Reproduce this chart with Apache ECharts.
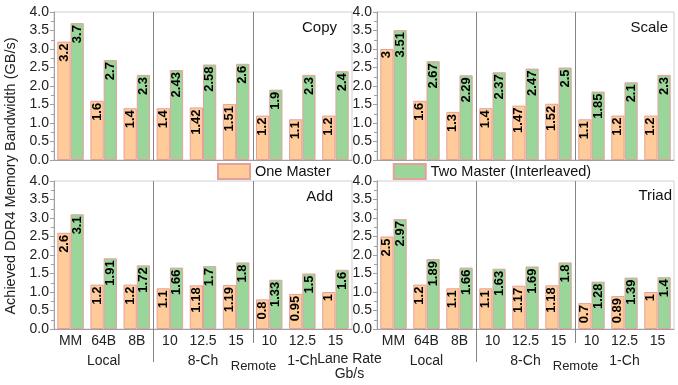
<!DOCTYPE html>
<html>
<head>
<meta charset="utf-8">
<script src="https://cdn.jsdelivr.net/npm/echarts@6/dist/echarts.min.js"></script>
<style>
  html, body { margin: 0; padding: 0; background: #fff; }
  #chart { width: 678px; height: 385px; }
</style>
</head>
<body>
<div id="chart"></div>
<script>
// Categories: local access modes, then remote lane rates (Gb/s) for 8-channel and 1-channel links
const categories = ['MM', '64B', '8B', '10', '12.5', '15', '10', '12.5', '15'];
const groups = ['Local', '8-Ch', '1-Ch'];
const seriesNames = ['One Master', 'Two Master (Interleaved)'];
const panelTitles = ['Copy', 'Scale', 'Add', 'Triad'];

// Achieved bandwidth (GB/s) per STREAM kernel
const copyOne   = [3.2, 1.6, 1.4, 1.4, 1.42, 1.51, 1.2, 1.1, 1.2];
const copyTwo   = [3.7, 2.7, 2.3, 2.43, 2.58, 2.6, 1.9, 2.3, 2.4];
const scaleOne  = [3, 1.6, 1.3, 1.4, 1.47, 1.52, 1.1, 1.2, 1.2];
const scaleTwo  = [3.51, 2.67, 2.29, 2.37, 2.47, 2.5, 1.85, 2.1, 2.3];
const addOne    = [2.6, 1.2, 1.2, 1.1, 1.18, 1.19, 0.8, 0.95, 1];
const addTwo    = [3.1, 1.91, 1.72, 1.66, 1.7, 1.8, 1.33, 1.5, 1.6];
const triadOne  = [2.5, 1.2, 1.1, 1.1, 1.17, 1.18, 0.7, 0.89, 1];
const triadTwo  = [2.97, 1.89, 1.66, 1.63, 1.69, 1.8, 1.28, 1.39, 1.4];

const yMin = 0, yMax = 4, yStep = 0.5;
const yTitle = 'Achieved DDR4 Memory Bandwidth (GB/s)';
const remoteLabel = 'Remote';
const laneRateLabel = 'Lane Rate\nGb/s';

const panelData = [[copyOne, copyTwo], [scaleOne, scaleTwo], [addOne, addTwo], [triadOne, triadTwo]];

const FONT = '"Liberation Sans", Arial, sans-serif';
const colors = ['#FFCC99', '#9AD69A'];
const edge = '#E6A09C';

const grids = [
  { left: 54,  top: 12,  width: 298, height: 148 },
  { left: 377, top: 12,  width: 297, height: 148 },
  { left: 54,  top: 181, width: 298, height: 148 },
  { left: 377, top: 181, width: 297, height: 148 }
].map(g => Object.assign({ show: true, borderColor: '#cfcfcf', borderWidth: 1, backgroundColor: 'transparent' }, g));

// Title placement per panel (right offset, top offset)
const titlePlace = [[336, 15], [5, 15], [340, 184], [1, 183]];

const xAxes = [];
const yAxes = [];
const series = [];
const titles = [];

for (let i = 0; i < 4; i++) {
  const bottomRow = i >= 2;
  xAxes.push({
    type: 'category', gridIndex: i, data: categories,
    axisLine: { lineStyle: { color: '#a0a0a0' } },
    axisTick: { alignWithLabel: true, length: 4, lineStyle: { color: '#a0a0a0' } },
    axisLabel: { show: bottomRow, interval: 0, margin: 5, fontSize: 14, color: '#222', fontFamily: FONT },
    splitLine: { show: false }
  });
  yAxes.push({
    type: 'value', gridIndex: i, min: yMin, max: yMax, interval: yStep,
    axisLine: { show: true, lineStyle: { color: '#a0a0a0' } },
    axisTick: { show: true, length: 4, lineStyle: { color: '#a0a0a0' } },
    minorTick: { show: true, splitNumber: 2, length: 3, lineStyle: { color: '#a0a0a0' } },
    splitLine: { show: false },
    axisLabel: { margin: 5, fontSize: 14, color: '#222', fontFamily: FONT, formatter: v => v.toFixed(1) }
  });
  for (let s = 0; s < 2; s++) {
    series.push({
      type: 'bar', name: seriesNames[s], xAxisIndex: i, yAxisIndex: i,
      data: panelData[i][s],
      barGap: '0%', barCategoryGap: '20%',
      itemStyle: { color: colors[s], borderColor: edge, borderWidth: 1 },
      label: {
        show: true, position: 'insideTop', rotate: 90, align: 'right', verticalAlign: 'middle',
        distance: 2, fontSize: 13, fontWeight: 'bold', color: '#000', fontFamily: FONT
      }
    });
  }
  titles.push({
    text: panelTitles[i],
    right: titlePlace[i][0],
    top: titlePlace[i][1],
    textStyle: { fontSize: 15, fontWeight: 'normal', color: '#111', fontFamily: FONT }
  });
}

// Group labels under the bottom panels
for (let i = 2; i < 4; i++) {
  xAxes.push({
    type: 'category', gridIndex: i, data: groups, position: 'bottom', offset: 20,
    axisLine: { show: false }, axisTick: { show: false }, splitLine: { show: false },
    axisLabel: { interval: 0, margin: 5, fontSize: 14, color: '#222', fontFamily: FONT }
  });
}

const option = {
  animation: false,
  backgroundColor: '#fff',
  textStyle: { fontFamily: FONT },
  title: titles,
  grid: grids,
  xAxis: xAxes,
  yAxis: yAxes,
  legend: {
    data: seriesNames, left: 212, top: 158, itemWidth: 32, itemHeight: 15, itemGap: 62,
    textStyle: { fontSize: 14.5, color: '#111', fontFamily: FONT },
    icon: 'rect'
  },
  series: series
};

const chart = echarts.init(document.getElementById('chart'), null, { renderer: 'canvas' });
chart.setOption(option);

// Group separators and extra captions, placed through the axis scales
const graphics = [];
for (let i = 0; i < 4; i++) {
  const px = k => chart.convertToPixel({ xAxisIndex: i }, k);
  const yTop = chart.convertToPixel({ yAxisIndex: i }, yMax);
  const yBot = chart.convertToPixel({ yAxisIndex: i }, yMin);
  const b1 = Math.round((px(2) + px(3)) / 2) + 0.5;
  const b2 = Math.round((px(5) + px(6)) / 2) + 0.5;
  const bottomRow = i >= 2;
  const ext1 = bottomRow ? yBot + 33 : yBot;
  const ext2 = bottomRow ? yBot + 14 : yBot;
  graphics.push({ type: 'line', shape: { x1: b1, y1: yTop, x2: b1, y2: ext1 }, style: { stroke: '#858585', lineWidth: 1 }, z: 10 });
  graphics.push({ type: 'line', shape: { x1: b2, y1: yTop, x2: b2, y2: ext2 }, style: { stroke: '#858585', lineWidth: 1 }, z: 10 });
  if (bottomRow) {
    graphics.push({
      type: 'text', x: b2, y: yBot + 31,
      style: { text: remoteLabel, font: '13px ' + FONT, fill: '#222', textAlign: 'center' }
    });
  }
}
// Lane-rate caption between the bottom panels
const leftEnd = chart.convertToPixel({ xAxisIndex: 2 }, 8);
const bottomY = chart.convertToPixel({ yAxisIndex: 2 }, yMin);
graphics.push({
  type: 'text', x: leftEnd + 14, y: bottomY + 23,
  style: { text: laneRateLabel, font: '14px ' + FONT, fill: '#222', textAlign: 'center', lineHeight: 15 }
});
// Shared y-axis title
graphics.push({
  type: 'text', x: 3, y: 176, rotation: Math.PI / 2,
  style: { text: yTitle, font: '14.5px ' + FONT, fill: '#222', textAlign: 'center', textVerticalAlign: 'top' }
});
chart.setOption({ graphic: graphics });
</script>
</body>
</html>
